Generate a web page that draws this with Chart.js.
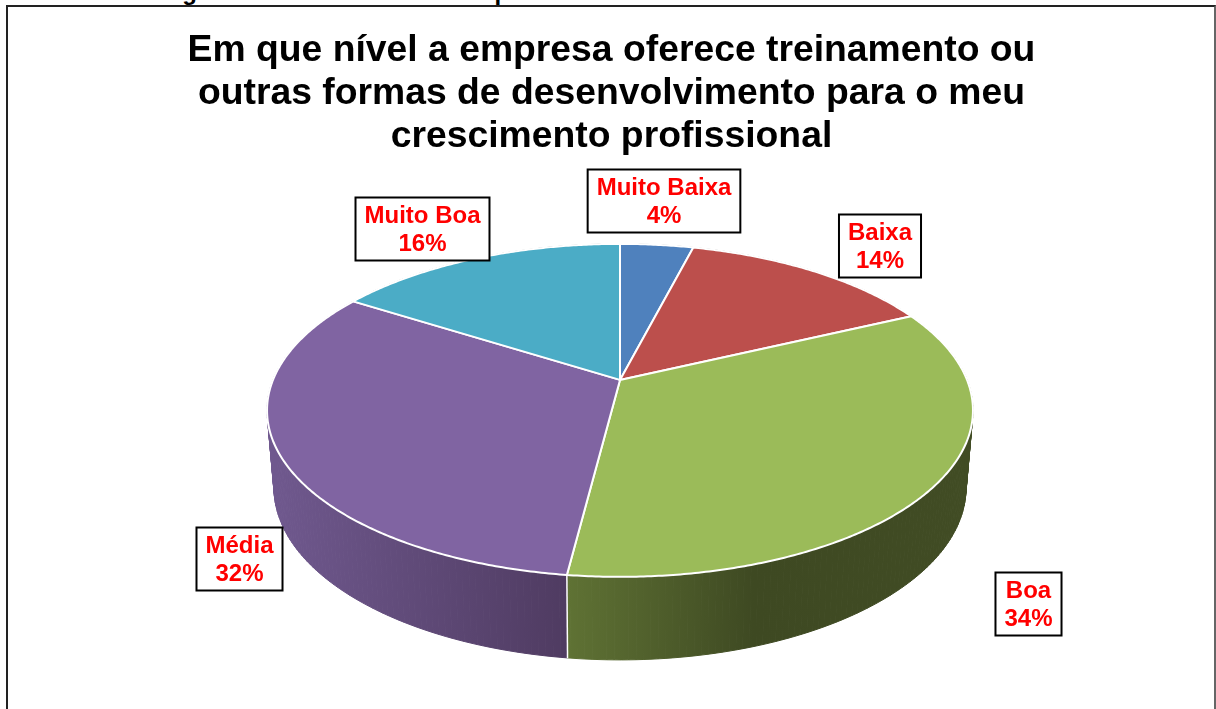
<!DOCTYPE html>
<html>
<head>
<meta charset="utf-8">
<style>
  html, body { margin: 0; padding: 0; background: #fff; overflow: hidden; }
  #caption { position: absolute; left: 161px; top: -22px; font: bold 24px "Liberation Sans", Arial, sans-serif; word-spacing: 20px; color: #000; white-space: nowrap; }
  #frame { position: absolute; left: 6px; top: 5px; width: 1206px; height: 720px; border: 2px solid #222; border-right-color: #666; background: #fff; }
  #chart { position: absolute; left: 8px; top: 7px; }
</style>
<script src="https://cdn.jsdelivr.net/npm/chart.js@4"></script>
</head>
<body>
<div id="caption">Figura 14: Crescimento profissional</div>
<div id="frame"></div>
<canvas id="chart" width="1207" height="702"></canvas>
<script>
var titleLines = [
  'Em que nível a empresa oferece treinamento ou',
  'outras formas de desenvolvimento para o meu',
  'crescimento profissional'
];
var categories = ['Muito Baixa', 'Baixa', 'Boa', 'Média', 'Muito Boa'];
var percents = [4, 14, 34, 32, 16];
var topColors = ['#4F81BD', '#BC4F4C', '#9BBB59', '#8064A2', '#4BACC6'];

// label box centres, in page pixels
var labelCentres = [[664, 201], [880, 246], [1028.5, 604], [239.5, 559], [422.5, 229]];

// projection of the pie disc: perspective tilted, apex is above the ellipse centre
var topFace = { dx: 8.5, bx: 347, ay: 160.9, k: -0.183, dy: 0 };
var bottomFace = { dx: 8.5, bx: 339.7, ay: 165.8, k: -0.19, dy: 75.3 };

function project(arc, face, angle) {
  var X = Math.cos(angle), Y = Math.sin(angle);
  var w = 1 + face.k * Y;
  return { x: arc.x + face.dx + face.bx * X / w, y: arc.y + face.dy + face.ay * Y / w };
}

function wallFill(ctx, i) {
  var g;
  if (i === 2) {
    g = ctx.createLinearGradient(560, 0, 965, 0);
    g.addColorStop(0, '#5F7234');
    g.addColorStop(0.46, '#3E4922');
    g.addColorStop(1, '#414C24');
  } else if (i === 3) {
    g = ctx.createLinearGradient(260, 0, 560, 0);
    g.addColorStop(0, '#70598F');
    g.addColorStop(1, '#4F3B61');
  } else {
    g = '#555555';
  }
  return g;
}

var pie3d = {
  id: 'pie3d',
  beforeDatasetsDraw: function (chart) {
    var ctx = chart.ctx;
    var arcs = chart.getDatasetMeta(0).data;
    var step = Math.PI / 360;

    ctx.save();
    // side wall first
    arcs.forEach(function (arc, i) {
      var fill = wallFill(ctx, i);
      ctx.fillStyle = fill;
      ctx.strokeStyle = fill;
      ctx.lineWidth = 1;
      for (var a = arc.startAngle; a < arc.endAngle; a += step * 2) {
        var b = Math.min(a + step * 2, arc.endAngle);
        var p1 = project(arc, topFace, a), p2 = project(arc, topFace, b);
        var p3 = project(arc, bottomFace, b), p4 = project(arc, bottomFace, a);
        ctx.beginPath();
        ctx.moveTo(p1.x, p1.y);
        ctx.lineTo(p2.x, p2.y);
        ctx.lineTo(p3.x, p3.y);
        ctx.lineTo(p4.x, p4.y);
        ctx.closePath();
        ctx.fill();
        ctx.stroke();
      }
    });

    // white seam where the two front slices meet
    var seam = arcs[2];
    var s1 = project(seam, topFace, seam.endAngle), s2 = project(seam, bottomFace, seam.endAngle);
    ctx.strokeStyle = '#fff';
    ctx.lineWidth = 1.5;
    ctx.beginPath();
    ctx.moveTo(s1.x, s1.y);
    ctx.lineTo(s2.x, s2.y);
    ctx.stroke();

    // top face
    arcs.forEach(function (arc, i) {
      var c = project(arc, topFace, 0);
      ctx.beginPath();
      ctx.moveTo(arc.x + topFace.dx, arc.y);
      for (var a = arc.startAngle; a < arc.endAngle; a += step) {
        var p = project(arc, topFace, a);
        ctx.lineTo(p.x, p.y);
      }
      var e = project(arc, topFace, arc.endAngle);
      ctx.lineTo(e.x, e.y);
      ctx.closePath();
      ctx.fillStyle = topColors[i];
      ctx.fill();
      ctx.strokeStyle = '#fff';
      ctx.lineWidth = 2;
      ctx.lineJoin = 'round';
      ctx.stroke();
    });
    ctx.restore();
    return false;
  },
  afterDraw: function (chart) {
    var ctx = chart.ctx;
    ctx.save();
    ctx.font = 'bold 24px "Liberation Sans", Arial, sans-serif';
    ctx.textAlign = 'center';
    ctx.textBaseline = 'middle';
    categories.forEach(function (name, i) {
      var pct = percents[i] + '%';
      var w = Math.max(ctx.measureText(name).width, ctx.measureText(pct).width) + 18;
      var h = 63;
      var cx = labelCentres[i][0] - 8, cy = labelCentres[i][1] - 7;
      ctx.fillStyle = '#fff';
      ctx.fillRect(cx - w / 2, cy - h / 2, w, h);
      ctx.strokeStyle = '#000';
      ctx.lineWidth = 2;
      ctx.strokeRect(cx - w / 2, cy - h / 2, w, h);
      ctx.fillStyle = '#FF0000';
      ctx.fillText(name, cx, cy - 13);
      ctx.fillText(pct, cx, cy + 15);
    });
    ctx.restore();
  }
};

var pieChart = new Chart(document.getElementById('chart'), {
  type: 'pie',
  data: {
    labels: categories,
    datasets: [{ data: percents, backgroundColor: topColors, borderColor: '#fff' }]
  },
  options: {
    responsive: false,
    animation: false,
    layout: { padding: { left: 0, right: 0, top: 0, bottom: 116 } },
    plugins: {
      legend: { display: false },
      tooltip: { enabled: false },
      title: {
        display: true,
        text: titleLines,
        color: '#000',
        font: { family: '"Liberation Sans", Arial, sans-serif', size: 37.3, weight: 'bold', lineHeight: 1.16 },
        padding: { top: 22, bottom: 8 }
      }
    }
  },
  plugins: [pie3d]
});
</script>
</body>
</html>
